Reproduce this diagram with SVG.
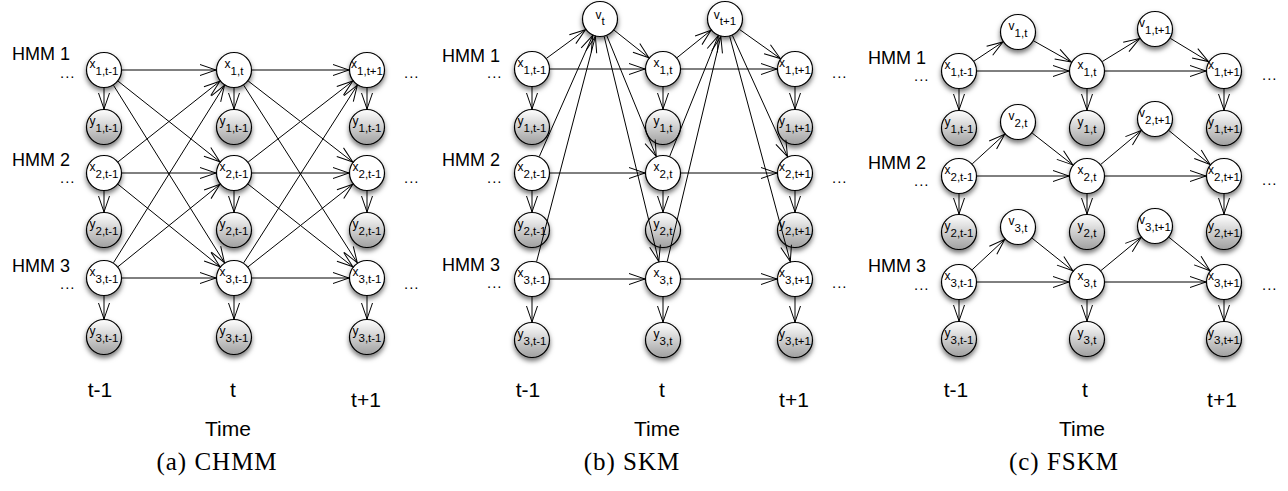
<svg xmlns="http://www.w3.org/2000/svg" width="1288" height="491" viewBox="0 0 1288 491">
<style>
text{font-family:"Liberation Sans",Arial,Helvetica,sans-serif;fill:#000}
.n circle{stroke:#000;stroke-width:1.2;filter:url(#sh)}
.x circle{fill:#fff}
.y circle{fill:url(#gy)}
.lbl{font-size:12px;text-anchor:middle}
.sub{font-size:11.5px}
.hmm{font-size:18px}
.dots{font-size:15px;letter-spacing:1px}
.tl{font-size:21px;text-anchor:middle}
.cap{font-family:"Liberation Serif","Times New Roman",serif;font-size:25px;letter-spacing:1px;text-anchor:middle}
#edges line{stroke:#000;stroke-width:1;marker-end:url(#ah)}
</style>
<defs>
<linearGradient id="gy" x1="0" y1="0" x2="0" y2="1">
<stop offset="0" stop-color="#ffffff"/>
<stop offset="1" stop-color="#a0a0a0"/>
</linearGradient>
<filter id="sh" x="-40%" y="-40%" width="180%" height="190%">
<feDropShadow dx="0" dy="3" stdDeviation="2.5" flood-color="#000" flood-opacity="0.55"/>
</filter>
<marker id="ah" markerUnits="userSpaceOnUse" markerWidth="20" markerHeight="14" refX="16" refY="6" orient="auto" overflow="visible">
<path d="M0,0.5 L16,6 L0,11.5" fill="none" stroke="#000" stroke-width="1"/>
</marker>
</defs>

<!-- ===== Panel (a) nodes ===== -->
<g id="a-x1-tm1" class="n x"><circle cx="104" cy="70" r="17.5"/><text class="lbl" x="104" y="68">x<tspan class="sub" dy="6.5">1,t-1</tspan></text></g>
<g id="a-x1-t" class="n x"><circle cx="234" cy="70" r="17.5"/><text class="lbl" x="234" y="68">x<tspan class="sub" dy="6.5">1,t</tspan></text></g>
<g id="a-x1-tp1" class="n x"><circle cx="367" cy="70" r="17.5"/><text class="lbl" x="367" y="68">x<tspan class="sub" dy="6.5">1,t+1</tspan></text></g>
<g id="a-y1-tm1" class="n y"><circle cx="104" cy="127" r="17.5"/><text class="lbl" x="104" y="125">y<tspan class="sub" dy="6.5">1,t-1</tspan></text></g>
<g id="a-y1-t" class="n y"><circle cx="234" cy="127" r="17.5"/><text class="lbl" x="234" y="125">y<tspan class="sub" dy="6.5">1,t-1</tspan></text></g>
<g id="a-y1-tp1" class="n y"><circle cx="367" cy="127" r="17.5"/><text class="lbl" x="367" y="125">y<tspan class="sub" dy="6.5">1,t-1</tspan></text></g>
<g id="a-x2-tm1" class="n x"><circle cx="104" cy="173" r="17.5"/><text class="lbl" x="104" y="171">x<tspan class="sub" dy="6.5">2,t-1</tspan></text></g>
<g id="a-x2-t" class="n x"><circle cx="234" cy="173" r="17.5"/><text class="lbl" x="234" y="171">x<tspan class="sub" dy="6.5">2,t-1</tspan></text></g>
<g id="a-x2-tp1" class="n x"><circle cx="367" cy="173" r="17.5"/><text class="lbl" x="367" y="171">x<tspan class="sub" dy="6.5">2,t-1</tspan></text></g>
<g id="a-y2-tm1" class="n y"><circle cx="104" cy="230" r="17.5"/><text class="lbl" x="104" y="228">y<tspan class="sub" dy="6.5">2,t-1</tspan></text></g>
<g id="a-y2-t" class="n y"><circle cx="234" cy="230" r="17.5"/><text class="lbl" x="234" y="228">y<tspan class="sub" dy="6.5">2,t-1</tspan></text></g>
<g id="a-y2-tp1" class="n y"><circle cx="367" cy="230" r="17.5"/><text class="lbl" x="367" y="228">y<tspan class="sub" dy="6.5">2,t-1</tspan></text></g>
<g id="a-x3-tm1" class="n x"><circle cx="104" cy="278" r="17.5"/><text class="lbl" x="104" y="276">x<tspan class="sub" dy="6.5">3,t-1</tspan></text></g>
<g id="a-x3-t" class="n x"><circle cx="234" cy="278" r="17.5"/><text class="lbl" x="234" y="276">x<tspan class="sub" dy="6.5">3,t-1</tspan></text></g>
<g id="a-x3-tp1" class="n x"><circle cx="367" cy="278" r="17.5"/><text class="lbl" x="367" y="276">x<tspan class="sub" dy="6.5">3,t-1</tspan></text></g>
<g id="a-y3-tm1" class="n y"><circle cx="104" cy="337" r="17.5"/><text class="lbl" x="104" y="335">y<tspan class="sub" dy="6.5">3,t-1</tspan></text></g>
<g id="a-y3-t" class="n y"><circle cx="234" cy="337" r="17.5"/><text class="lbl" x="234" y="335">y<tspan class="sub" dy="6.5">3,t-1</tspan></text></g>
<g id="a-y3-tp1" class="n y"><circle cx="367" cy="337" r="17.5"/><text class="lbl" x="367" y="335">y<tspan class="sub" dy="6.5">3,t-1</tspan></text></g>

<!-- ===== Panel (b) nodes ===== -->
<g id="b-v-t" class="n x"><circle cx="600" cy="19" r="17.5"/><text class="lbl" x="600" y="19">v<tspan class="sub" dy="5.5">t</tspan></text></g>
<g id="b-v-tp1" class="n x"><circle cx="725" cy="19" r="17.5"/><text class="lbl" x="725" y="19">v<tspan class="sub" dy="5.5">t+1</tspan></text></g>
<g id="b-x1-tm1" class="n x"><circle cx="532" cy="69" r="17.5"/><text class="lbl" x="532" y="67">x<tspan class="sub" dy="6.5">1,t-1</tspan></text></g>
<g id="b-x1-t" class="n x"><circle cx="663" cy="69" r="17.5"/><text class="lbl" x="663" y="67">x<tspan class="sub" dy="6.5">1,t</tspan></text></g>
<g id="b-x1-tp1" class="n x"><circle cx="795" cy="69" r="17.5"/><text class="lbl" x="795" y="67">x<tspan class="sub" dy="6.5">1,t+1</tspan></text></g>
<g id="b-y1-tm1" class="n y"><circle cx="532" cy="127" r="17.5"/><text class="lbl" x="532" y="125">y<tspan class="sub" dy="6.5">1,t-1</tspan></text></g>
<g id="b-y1-t" class="n y"><circle cx="663" cy="127" r="17.5"/><text class="lbl" x="663" y="125">y<tspan class="sub" dy="6.5">1,t</tspan></text></g>
<g id="b-y1-tp1" class="n y"><circle cx="795" cy="127" r="17.5"/><text class="lbl" x="795" y="125">y<tspan class="sub" dy="6.5">1,t+1</tspan></text></g>
<g id="b-x2-tm1" class="n x"><circle cx="532" cy="173" r="17.5"/><text class="lbl" x="532" y="171">x<tspan class="sub" dy="6.5">2,t-1</tspan></text></g>
<g id="b-x2-t" class="n x"><circle cx="663" cy="173" r="17.5"/><text class="lbl" x="663" y="171">x<tspan class="sub" dy="6.5">2,t</tspan></text></g>
<g id="b-x2-tp1" class="n x"><circle cx="795" cy="173" r="17.5"/><text class="lbl" x="795" y="171">x<tspan class="sub" dy="6.5">2,t+1</tspan></text></g>
<g id="b-y2-tm1" class="n y"><circle cx="532" cy="230" r="17.5"/><text class="lbl" x="532" y="228">y<tspan class="sub" dy="6.5">2,t-1</tspan></text></g>
<g id="b-y2-t" class="n y"><circle cx="663" cy="230" r="17.5"/><text class="lbl" x="663" y="228">y<tspan class="sub" dy="6.5">2,t</tspan></text></g>
<g id="b-y2-tp1" class="n y"><circle cx="795" cy="230" r="17.5"/><text class="lbl" x="795" y="228">y<tspan class="sub" dy="6.5">2,t+1</tspan></text></g>
<g id="b-x3-tm1" class="n x"><circle cx="532" cy="279" r="17.5"/><text class="lbl" x="532" y="277">x<tspan class="sub" dy="6.5">3,t-1</tspan></text></g>
<g id="b-x3-t" class="n x"><circle cx="663" cy="279" r="17.5"/><text class="lbl" x="663" y="277">x<tspan class="sub" dy="6.5">3,t</tspan></text></g>
<g id="b-x3-tp1" class="n x"><circle cx="795" cy="279" r="17.5"/><text class="lbl" x="795" y="277">x<tspan class="sub" dy="6.5">3,t+1</tspan></text></g>
<g id="b-y3-tm1" class="n y"><circle cx="532" cy="340" r="17.5"/><text class="lbl" x="532" y="338">y<tspan class="sub" dy="6.5">3,t-1</tspan></text></g>
<g id="b-y3-t" class="n y"><circle cx="663" cy="340" r="17.5"/><text class="lbl" x="663" y="338">y<tspan class="sub" dy="6.5">3,t</tspan></text></g>
<g id="b-y3-tp1" class="n y"><circle cx="795" cy="340" r="17.5"/><text class="lbl" x="795" y="338">y<tspan class="sub" dy="6.5">3,t+1</tspan></text></g>

<!-- ===== Panel (c) nodes ===== -->
<g id="c-v1-t" class="n x"><circle cx="1018" cy="32" r="17.5"/><text class="lbl" x="1018" y="30">v<tspan class="sub" dy="6.5">1,t</tspan></text></g>
<g id="c-v1-tp1" class="n x"><circle cx="1155" cy="29" r="17.5"/><text class="lbl" x="1155" y="27">v<tspan class="sub" dy="6.5">1,t+1</tspan></text></g>
<g id="c-x1-tm1" class="n x"><circle cx="959" cy="71" r="17.5"/><text class="lbl" x="959" y="69">x<tspan class="sub" dy="6.5">1,t-1</tspan></text></g>
<g id="c-x1-t" class="n x"><circle cx="1087" cy="71" r="17.5"/><text class="lbl" x="1087" y="69">x<tspan class="sub" dy="6.5">1,t</tspan></text></g>
<g id="c-x1-tp1" class="n x"><circle cx="1224" cy="71" r="17.5"/><text class="lbl" x="1224" y="69">x<tspan class="sub" dy="6.5">1,t+1</tspan></text></g>
<g id="c-y1-tm1" class="n y"><circle cx="959" cy="128" r="17.5"/><text class="lbl" x="959" y="126">y<tspan class="sub" dy="6.5">1,t-1</tspan></text></g>
<g id="c-y1-t" class="n y"><circle cx="1087" cy="128" r="17.5"/><text class="lbl" x="1087" y="126">y<tspan class="sub" dy="6.5">1,t</tspan></text></g>
<g id="c-y1-tp1" class="n y"><circle cx="1224" cy="128" r="17.5"/><text class="lbl" x="1224" y="126">y<tspan class="sub" dy="6.5">1,t+1</tspan></text></g>
<g id="c-v2-t" class="n x"><circle cx="1018" cy="122" r="17.5"/><text class="lbl" x="1018" y="120">v<tspan class="sub" dy="6.5">2,t</tspan></text></g>
<g id="c-v2-tp1" class="n x"><circle cx="1155" cy="119" r="17.5"/><text class="lbl" x="1155" y="117">v<tspan class="sub" dy="6.5">2,t+1</tspan></text></g>
<g id="c-x2-tm1" class="n x"><circle cx="959" cy="176" r="17.5"/><text class="lbl" x="959" y="174">x<tspan class="sub" dy="6.5">2,t-1</tspan></text></g>
<g id="c-x2-t" class="n x"><circle cx="1087" cy="176" r="17.5"/><text class="lbl" x="1087" y="174">x<tspan class="sub" dy="6.5">2,t</tspan></text></g>
<g id="c-x2-tp1" class="n x"><circle cx="1224" cy="176" r="17.5"/><text class="lbl" x="1224" y="174">x<tspan class="sub" dy="6.5">2,t+1</tspan></text></g>
<g id="c-y2-tm1" class="n y"><circle cx="959" cy="232" r="17.5"/><text class="lbl" x="959" y="230">y<tspan class="sub" dy="6.5">2,t-1</tspan></text></g>
<g id="c-y2-t" class="n y"><circle cx="1087" cy="232" r="17.5"/><text class="lbl" x="1087" y="230">y<tspan class="sub" dy="6.5">2,t</tspan></text></g>
<g id="c-y2-tp1" class="n y"><circle cx="1224" cy="232" r="17.5"/><text class="lbl" x="1224" y="230">y<tspan class="sub" dy="6.5">2,t+1</tspan></text></g>
<g id="c-v3-t" class="n x"><circle cx="1018" cy="227" r="17.5"/><text class="lbl" x="1018" y="225">v<tspan class="sub" dy="6.5">3,t</tspan></text></g>
<g id="c-v3-tp1" class="n x"><circle cx="1155" cy="226" r="17.5"/><text class="lbl" x="1155" y="224">v<tspan class="sub" dy="6.5">3,t+1</tspan></text></g>
<g id="c-x3-tm1" class="n x"><circle cx="959" cy="282" r="17.5"/><text class="lbl" x="959" y="280">x<tspan class="sub" dy="6.5">3,t-1</tspan></text></g>
<g id="c-x3-t" class="n x"><circle cx="1087" cy="282" r="17.5"/><text class="lbl" x="1087" y="280">x<tspan class="sub" dy="6.5">3,t</tspan></text></g>
<g id="c-x3-tp1" class="n x"><circle cx="1224" cy="282" r="17.5"/><text class="lbl" x="1224" y="280">x<tspan class="sub" dy="6.5">3,t+1</tspan></text></g>
<g id="c-y3-tm1" class="n y"><circle cx="959" cy="339" r="17.5"/><text class="lbl" x="959" y="337">y<tspan class="sub" dy="6.5">3,t-1</tspan></text></g>
<g id="c-y3-t" class="n y"><circle cx="1087" cy="339" r="17.5"/><text class="lbl" x="1087" y="337">y<tspan class="sub" dy="6.5">3,t</tspan></text></g>
<g id="c-y3-tp1" class="n y"><circle cx="1224" cy="339" r="17.5"/><text class="lbl" x="1224" y="337">y<tspan class="sub" dy="6.5">3,t+1</tspan></text></g>

<!-- ===== Connectors ===== -->
<g id="edges">
<!-- panel a horizontals -->
<line x1="122" y1="70" x2="216" y2="70"/><line x1="252" y1="70" x2="349" y2="70"/>
<line x1="122" y1="173" x2="216" y2="173"/><line x1="252" y1="173" x2="349" y2="173"/>
<line x1="122" y1="278" x2="216" y2="278"/><line x1="252" y1="278" x2="349" y2="278"/>
<!-- panel a diagonals t-1 -> t -->
<line x1="118.1" y1="81.2" x2="219.9" y2="161.8"/>
<line x1="113.5" y1="85.3" x2="224.5" y2="262.7"/>
<line x1="118.1" y1="161.8" x2="219.9" y2="81.2"/>
<line x1="118.0" y1="184.3" x2="220.0" y2="266.7"/>
<line x1="113.5" y1="262.7" x2="224.5" y2="85.3"/>
<line x1="118.0" y1="266.7" x2="220.0" y2="184.3"/>
<!-- panel a diagonals t -> t+1 -->
<line x1="248.2" y1="81.0" x2="352.8" y2="162.0"/>
<line x1="243.7" y1="85.2" x2="357.3" y2="262.8"/>
<line x1="248.2" y1="162.0" x2="352.8" y2="81.0"/>
<line x1="248.1" y1="184.2" x2="352.9" y2="266.8"/>
<line x1="243.7" y1="262.8" x2="357.3" y2="85.2"/>
<line x1="248.1" y1="266.8" x2="352.9" y2="184.2"/>
<!-- panel a emissions -->
<line x1="104" y1="88" x2="104" y2="109"/><line x1="234" y1="88" x2="234" y2="109"/><line x1="367" y1="88" x2="367" y2="109"/>
<line x1="104" y1="191" x2="104" y2="212"/><line x1="234" y1="191" x2="234" y2="212"/><line x1="367" y1="191" x2="367" y2="212"/>
<line x1="104" y1="296" x2="104" y2="319"/><line x1="234" y1="296" x2="234" y2="319"/><line x1="367" y1="296" x2="367" y2="319"/>

<!-- panel b horizontals -->
<line x1="550" y1="69" x2="645" y2="69"/><line x1="681" y1="69" x2="777" y2="69"/>
<line x1="550" y1="173" x2="645" y2="173"/><line x1="681" y1="173" x2="777" y2="173"/>
<line x1="550" y1="279" x2="645" y2="279"/><line x1="681" y1="279" x2="777" y2="279"/>
<!-- panel b into v_t -->
<line x1="546.5" y1="58.3" x2="585.5" y2="29.7"/>
<line x1="539.3" y1="156.5" x2="592.7" y2="35.5"/>
<line x1="536.6" y1="261.6" x2="595.4" y2="36.4"/>
<!-- panel b out of v_t -->
<line x1="614.1" y1="30.2" x2="648.9" y2="57.8"/>
<line x1="606.8" y1="35.7" x2="656.2" y2="156.3"/>
<line x1="604.2" y1="36.5" x2="658.8" y2="261.5"/>
<!-- panel b into v_t+1 -->
<line x1="677.0" y1="57.7" x2="711.0" y2="30.3"/>
<line x1="669.7" y1="156.3" x2="718.3" y2="35.7"/>
<line x1="667.2" y1="261.5" x2="720.8" y2="36.5"/>
<!-- panel b out of v_t+1 -->
<line x1="739.6" y1="29.5" x2="780.3" y2="58.5"/>
<line x1="732.4" y1="35.4" x2="787.5" y2="156.6"/>
<line x1="729.7" y1="36.4" x2="790.3" y2="261.6"/>
<!-- panel b emissions -->
<line x1="532" y1="87" x2="532" y2="109"/><line x1="663" y1="87" x2="663" y2="109"/><line x1="795" y1="87" x2="795" y2="109"/>
<line x1="532" y1="191" x2="532" y2="212"/><line x1="663" y1="191" x2="663" y2="212"/><line x1="795" y1="191" x2="795" y2="212"/>
<line x1="532" y1="297" x2="532" y2="322"/><line x1="663" y1="297" x2="663" y2="322"/><line x1="795" y1="297" x2="795" y2="322"/>

<!-- panel c horizontals -->
<line x1="977" y1="71" x2="1069" y2="71"/><line x1="1105" y1="71" x2="1206" y2="71"/>
<line x1="977" y1="176" x2="1069" y2="176"/><line x1="1105" y1="176" x2="1206" y2="176"/>
<line x1="977" y1="282" x2="1069" y2="282"/><line x1="1105" y1="282" x2="1206" y2="282"/>
<!-- panel c row 1 -->
<line x1="974.0" y1="61.1" x2="1003.0" y2="41.9"/>
<line x1="1033.7" y1="40.9" x2="1071.3" y2="62.1"/>
<line x1="1102.3" y1="61.5" x2="1139.7" y2="38.5"/>
<line x1="1170.4" y1="38.4" x2="1208.6" y2="61.6"/>
<!-- panel c row 2 -->
<line x1="972.3" y1="163.8" x2="1004.7" y2="134.2"/>
<line x1="1032.2" y1="133.1" x2="1072.8" y2="164.9"/>
<line x1="1100.8" y1="164.4" x2="1141.2" y2="130.6"/>
<line x1="1168.9" y1="130.5" x2="1210.1" y2="164.5"/>
<!-- panel c row 3 -->
<line x1="972.2" y1="269.7" x2="1004.8" y2="239.3"/>
<line x1="1032.1" y1="238.2" x2="1072.9" y2="270.8"/>
<line x1="1100.9" y1="270.6" x2="1141.1" y2="237.4"/>
<line x1="1169.0" y1="237.3" x2="1210.0" y2="270.7"/>
<!-- panel c emissions -->
<line x1="959" y1="89" x2="959" y2="110"/><line x1="1087" y1="89" x2="1087" y2="110"/><line x1="1224" y1="89" x2="1224" y2="110"/>
<line x1="959" y1="194" x2="959" y2="214"/><line x1="1087" y1="194" x2="1087" y2="214"/><line x1="1224" y1="194" x2="1224" y2="214"/>
<line x1="959" y1="300" x2="959" y2="321"/><line x1="1087" y1="300" x2="1087" y2="321"/><line x1="1224" y1="300" x2="1224" y2="321"/>
</g>

<!-- ===== Labels ===== -->
<g id="labels-a">
<text class="hmm" x="12" y="60">HMM 1</text>
<text class="hmm" x="12" y="166">HMM 2</text>
<text class="hmm" x="12" y="272">HMM 3</text>
<text class="dots" x="60" y="78">...</text>
<text class="dots" x="60" y="183">...</text>
<text class="dots" x="60" y="289">...</text>
<text class="dots" x="404" y="78">...</text>
<text class="dots" x="404" y="183">...</text>
<text class="dots" x="404" y="289">...</text>
<text class="tl" x="100" y="397">t-1</text>
<text class="tl" x="233" y="397">t</text>
<text class="tl" x="366" y="407">t+1</text>
<text class="tl" x="228" y="436">Time</text>
<text class="cap" x="217" y="470">(a) CHMM</text>
</g>
<g id="labels-b">
<text class="hmm" x="442" y="62">HMM 1</text>
<text class="hmm" x="442" y="166">HMM 2</text>
<text class="hmm" x="442" y="271">HMM 3</text>
<text class="dots" x="487" y="78">...</text>
<text class="dots" x="487" y="183">...</text>
<text class="dots" x="487" y="288">...</text>
<text class="dots" x="832" y="78">...</text>
<text class="dots" x="832" y="183">...</text>
<text class="dots" x="832" y="288">...</text>
<text class="tl" x="528" y="397">t-1</text>
<text class="tl" x="662" y="397">t</text>
<text class="tl" x="794" y="407">t+1</text>
<text class="tl" x="657" y="436">Time</text>
<text class="cap" x="632" y="470">(b) SKM</text>
</g>
<g id="labels-c">
<text class="hmm" x="868" y="64">HMM 1</text>
<text class="hmm" x="868" y="169">HMM 2</text>
<text class="hmm" x="868" y="272">HMM 3</text>
<text class="dots" x="914" y="81">...</text>
<text class="dots" x="914" y="186">...</text>
<text class="dots" x="914" y="290">...</text>
<text class="dots" x="1262" y="80">...</text>
<text class="dots" x="1262" y="185">...</text>
<text class="dots" x="1262" y="290">...</text>
<text class="tl" x="956" y="397">t-1</text>
<text class="tl" x="1085" y="397">t</text>
<text class="tl" x="1222" y="407">t+1</text>
<text class="tl" x="1082" y="436">Time</text>
<text class="cap" x="1064" y="470">(c) FSKM</text>
</g>
</svg>
